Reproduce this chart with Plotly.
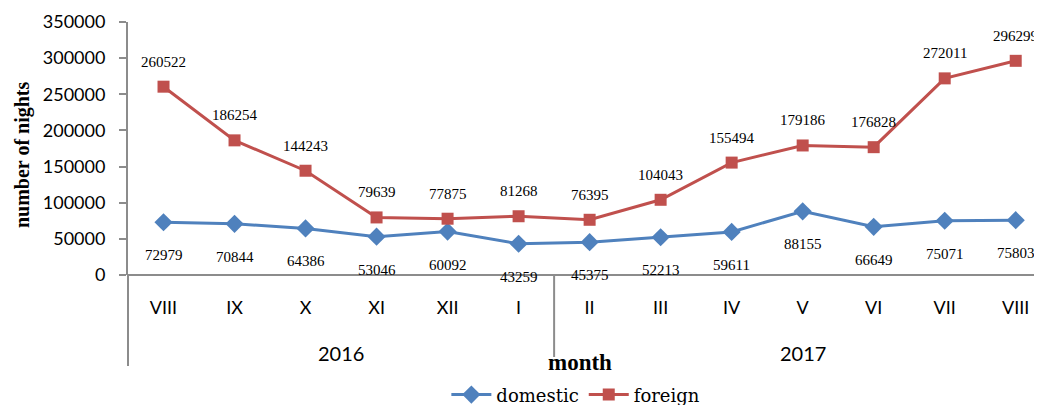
import plotly.graph_objects as go

months = ["VIII", "IX", "X", "XI", "XII", "I", "II", "III", "IV", "V", "VI", "VII", "VIII"]
years = ["2016", "2017"]
domestic = [72979, 70844, 64386, 53046, 60092, 43259, 45375, 52213, 59611, 88155, 66649, 75071, 75803]
foreign = [260522, 186254, 144243, 79639, 77875, 81268, 76395, 104043, 155494, 179186, 176828, 272011, 296299]
yticks = [0, 50000, 100000, 150000, 200000, 250000, 300000, 350000]

xs = list(range(len(months)))
BLUE = "#4F81BD"
RED = "#C0504D"
GRAY = "#8C8C8C"
SERIF = "Liberation Serif"
SANS = "Lato"

fig = go.Figure()
fig.add_trace(go.Scatter(x=xs, y=domestic, name="domestic", mode="lines+markers",
                         line=dict(color=BLUE, width=3),
                         marker=dict(symbol="diamond", size=14, color=BLUE)))
fig.add_trace(go.Scatter(x=xs, y=foreign, name="foreign", mode="lines+markers",
                         line=dict(color=RED, width=3),
                         marker=dict(symbol="square", size=12, color=RED)))

ann = []
for i, v in enumerate(domestic):
    ann.append(dict(x=i, y=v, text=str(v), showarrow=False, yshift=-33,
                    font=dict(family=SERIF, size=15, color="#000")))
for i, v in enumerate(foreign):
    ann.append(dict(x=i, y=v, text=str(v), showarrow=False, yshift=25,
                    font=dict(family=SERIF, size=15, color="#000")))
# year labels
ann.append(dict(x=2.5, y=-0.308, yref="paper", text=years[0], showarrow=False,
                xanchor="center", yanchor="middle",
                font=dict(family=SANS, size=20, color="#000")))
ann.append(dict(x=9, y=-0.308, yref="paper", text=years[1], showarrow=False,
                xanchor="center", yanchor="middle",
                font=dict(family=SANS, size=20, color="#000")))
ann.append(dict(x=0.4945, xref="paper", y=-0.344, yref="paper", text="<b>month</b>", showarrow=False,
                xanchor="center", yanchor="middle",
                font=dict(family=SERIF, size=23, color="#000")))
ann.append(dict(x=-0.116, xref="paper", y=0.478, yref="paper", text="<b>number of nights</b>",
                showarrow=False, textangle=-90, xanchor="center", yanchor="middle",
                font=dict(family=SERIF, size=20, color="#000")))

shapes = [
    dict(type="line", xref="paper", yref="paper", x0=0, x1=0, y0=0, y1=-0.36,
         line=dict(color=GRAY, width=2)),
    dict(type="line", xref="x", yref="paper", x0=5.5, x1=5.5, y0=0, y1=-0.324,
         line=dict(color=GRAY, width=2)),
]

# page body has an 8px margin, so the figure is offset by 8px
fig.update_layout(
    width=1034, height=397,
    margin=dict(l=120, r=0, t=14, b=130, autoexpand=False),
    paper_bgcolor="white", plot_bgcolor="white",
    showlegend=True,
    legend=dict(orientation="h", x=0.49, xanchor="center", y=-0.474, yanchor="middle",
                font=dict(family="DejaVu Serif", size=18, color="#000"), itemwidth=40),
    annotations=ann, shapes=shapes,
    xaxis=dict(range=[-0.5, 12.37], tickvals=xs, ticktext=months, showgrid=False,
               zeroline=False, showline=False, ticks="", ticklabelstandoff=20, automargin=False,
               tickfont=dict(family=SANS, size=18, color="#000")),
    yaxis=dict(range=[0, 350000], tickvals=yticks, ticktext=[str(t) for t in yticks],
               showgrid=False, zeroline=True, zerolinecolor=GRAY, zerolinewidth=2,
               showline=True, linecolor=GRAY, linewidth=2, ticks="outside", ticklen=7,
               tickcolor=GRAY, tickwidth=2, ticklabelstandoff=10, automargin=False,
               tickfont=dict(family=SANS, size=18, color="#000")),
)
fig.write_html("out.html")
